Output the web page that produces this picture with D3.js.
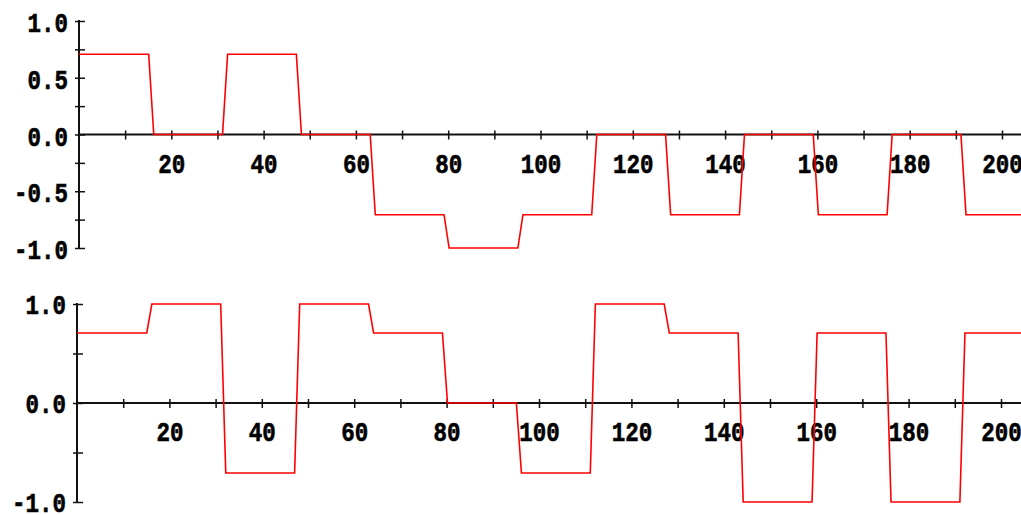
<!DOCTYPE html>
<html>
<head>
<meta charset="utf-8">
<script src="https://cdn.jsdelivr.net/npm/d3@7"></script>
<style>
  body { margin: 0; background: #fff; }
  text { font-family: "Liberation Mono", "DejaVu Sans Mono", monospace; font-weight: bold; font-size: 22.5px; fill: #000; stroke: #000; stroke-width: 0.5px; }
</style>
</head>
<body>
<script>
// symbol length on the x axis
var symLen = 16;

// levels of each symbol, top chart and bottom chart
var topLevels = [0.707, 0, 0.707, 0, -0.707, -1, -0.707, 0, -0.707, 0, -0.707, 0, -0.707];
var botLevels = [0.707, 1, -0.707, 1, 0.707, 0, -0.707, 1, 0.707, -1, 0.707, -1, 0.707];

var xTicks = d3.range(10, 210, 10);
var topYTicks = [-1, -0.75, -0.5, -0.25, 0, 0.25, 0.5, 0.75, 1];
var botYTicks = [-1, -0.5, 0, 0.5, 1];

var W = 1021, H = 515;
var stretch = 1.22; // glyphs in the picture are taller than the font

var svg = d3.select("body")
    .append("svg")
    .attr("width", W)
    .attr("height", H);

svg.append("rect").attr("width", W).attr("height", H).attr("fill", "#fff");

function fmt(d) {
    return d3.format(".1f")(d).replace("\u2212", "-");
}

// points of the signal: flat for each symbol, short ramp at the edges
function signalPoints(levels) {
    var pts = [];
    levels.forEach(function (v, k) {
        var start = k * symLen + (k == 0 ? 0 : 0.2);
        var end = (k + 1) * symLen - 0.9;
        pts.push([start, v]);
        pts.push([end, v]);
    });
    return pts;
}

function drawPanel(opt) {
    var x = d3.scaleLinear().domain([0, 200]).range([opt.x0, opt.x200]);
    var y = d3.scaleLinear().domain([-1, 1]).range([opt.yBot, opt.yTop]);
    var g = svg.append("g");

    // x axis
    var xa = d3.axisBottom(x)
        .tickValues(xTicks)
        .tickSize(0)
        .tickPadding(0)
        .tickFormat(function (d) { return d % 20 == 0 ? d : ""; });
    var gx = g.append("g")
        .attr("transform", "translate(0," + y(0) + ")")
        .call(xa);
    gx.attr("font-size", null).attr("font-family", null);
    gx.select(".domain").remove();
    gx.selectAll(".tick line")
        .attr("y1", -4).attr("y2", 5)
        .attr("stroke", "#111").attr("stroke-width", 1.5);
    gx.selectAll(".tick text")
        .attr("transform", "scale(1," + stretch + ")")
        .attr("y", 38.5 / stretch).attr("dy", null);
    gx.append("line")
        .attr("x1", x(0)).attr("x2", W)
        .attr("y1", 0).attr("y2", 0)
        .attr("stroke", "#111").attr("stroke-width", 2);

    // y axis
    var ya = d3.axisLeft(y)
        .tickValues(opt.yTicks)
        .tickSize(0)
        .tickPadding(11)
        .tickFormat(function (d) { return opt.labels.indexOf(d) >= 0 ? fmt(d) : ""; });
    var gy = g.append("g")
        .attr("transform", "translate(" + x(0) + ",0)")
        .call(ya);
    gy.attr("font-size", null).attr("font-family", null);
    gy.select(".domain").remove();
    gy.selectAll(".tick line")
        .attr("x1", -4).attr("x2", 6)
        .attr("stroke", "#111").attr("stroke-width", 1.5);
    gy.selectAll(".tick text")
        .attr("transform", "scale(1," + stretch + ")")
        .attr("dy", opt.labelDy / stretch);
    gy.append("line")
        .attr("x1", 0).attr("x2", 0)
        .attr("y1", y(1) - 1).attr("y2", y(-1))
        .attr("stroke", "#111").attr("stroke-width", 2);

    // signal
    var line = d3.line()
        .x(function (d) { return x(d[0]); })
        .y(function (d) { return y(d[1]); });
    g.append("path")
        .datum(signalPoints(opt.levels))
        .attr("d", line)
        .attr("fill", "none")
        .attr("stroke", "#ff0000")
        .attr("stroke-width", 1.6);
}

drawPanel({ x0: 79, x200: 1002, yTop: 21, yBot: 248, yTicks: topYTicks, labels: [-1, -0.5, 0, 0.5, 1], levels: topLevels, labelDy: 10.5 });
drawPanel({ x0: 77, x200: 1001, yTop: 304, yBot: 502, yTicks: botYTicks, labels: [-1, 0, 1], levels: botLevels, labelDy: 9.5 });
</script>
</body>
</html>
